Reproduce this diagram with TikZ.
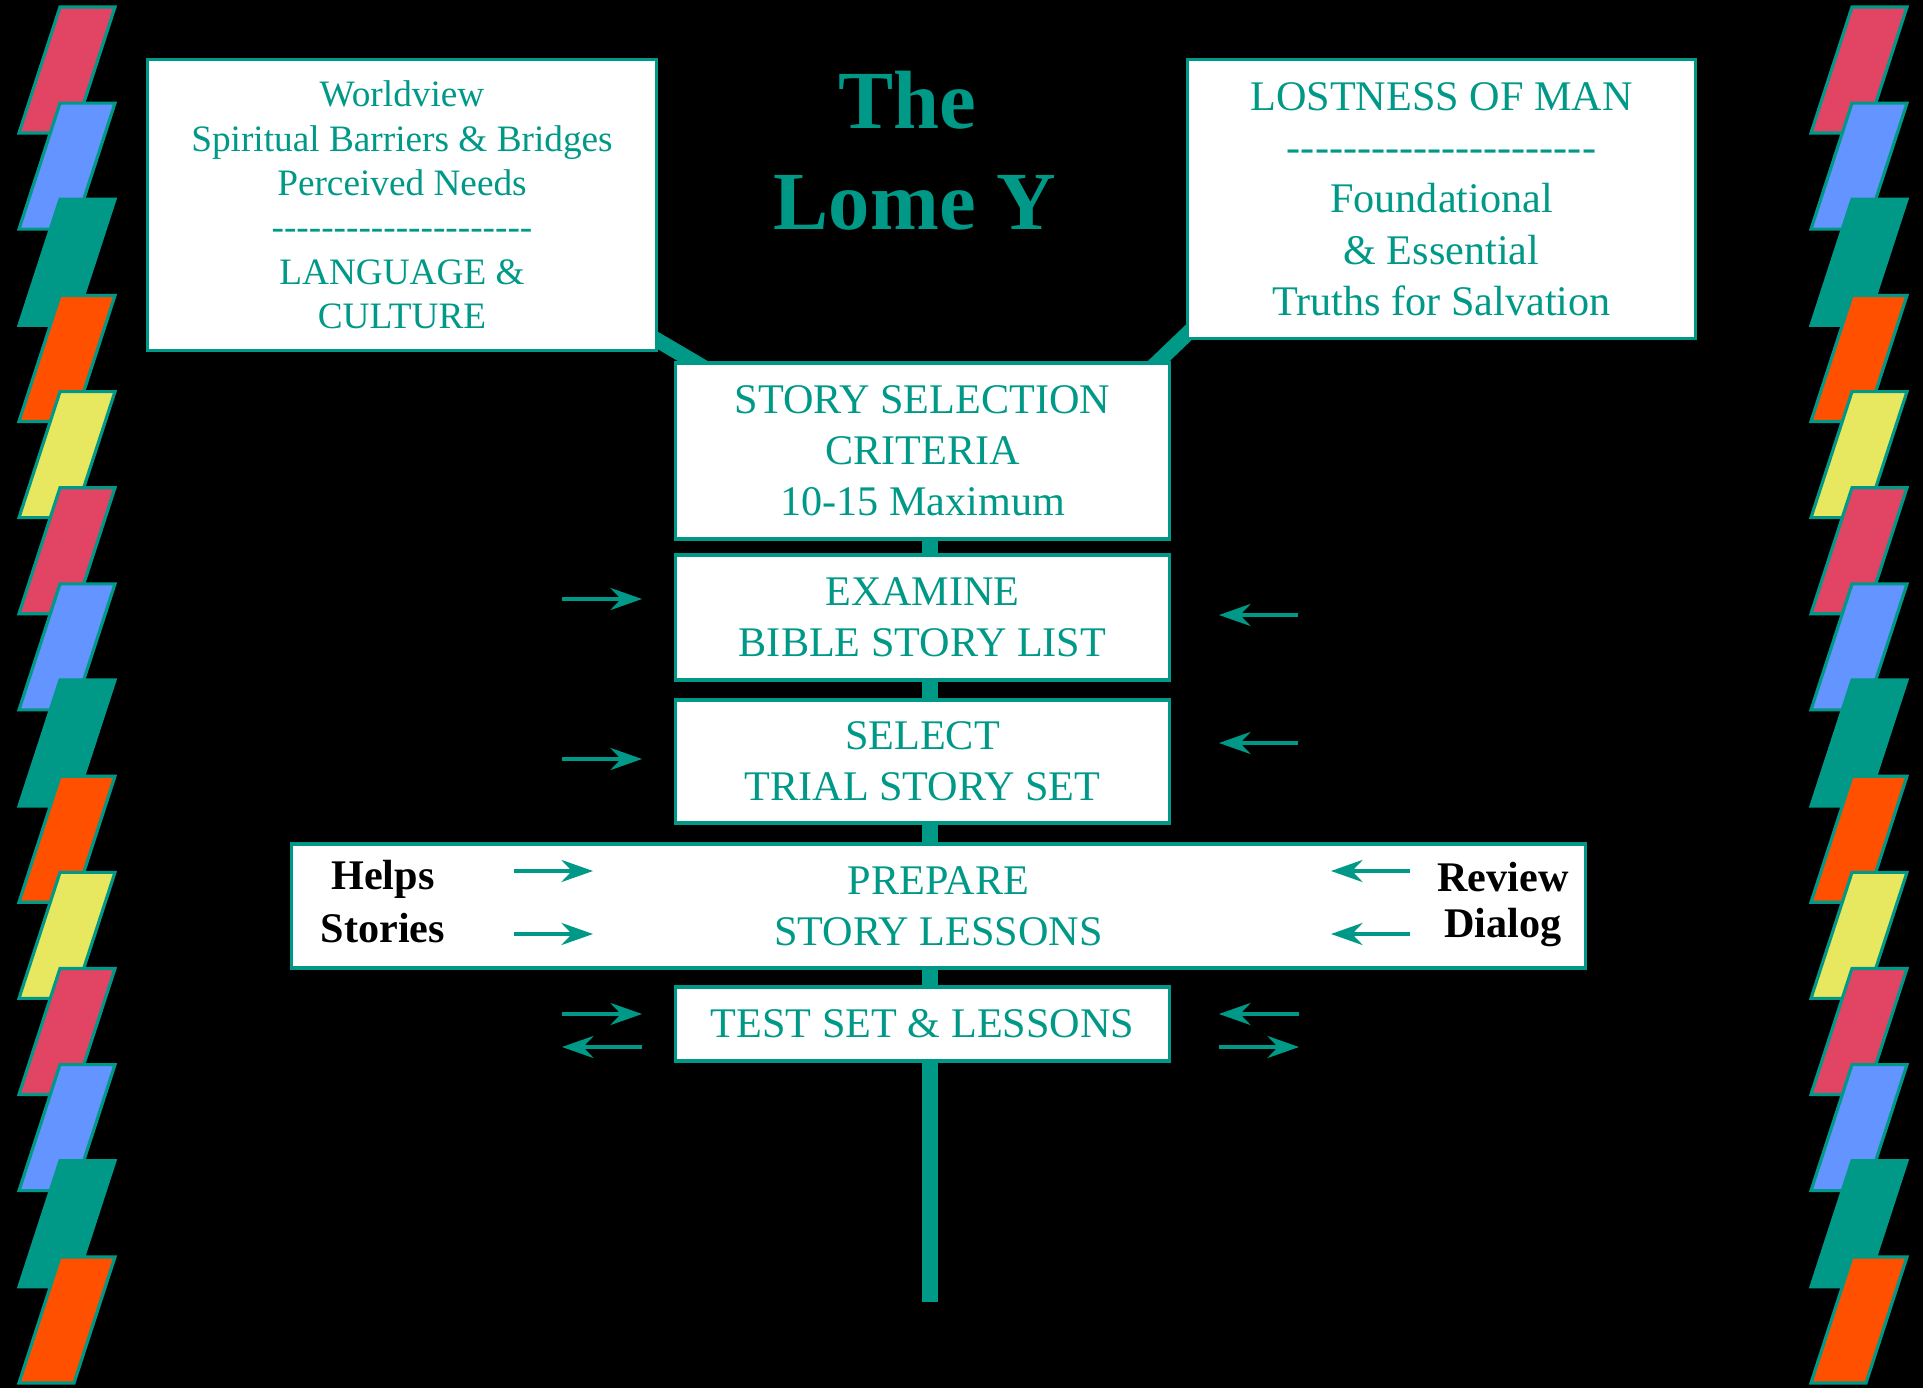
\documentclass[tikz,border=0pt]{standalone}
\usepackage{fontspec}
\setmainfont{Liberation Serif}
\usetikzlibrary{arrows.meta}

\definecolor{lometeal}{RGB}{0,153,136}
\definecolor{barred}{RGB}{226,68,100}
\definecolor{barblue}{RGB}{100,148,255}
\definecolor{barorange}{RGB}{255,80,0}
\definecolor{baryellow}{RGB}{232,232,96}

\pgfdeclarelayer{back}
\pgfsetlayers{back,main}

% a row of single hyphens (no dash ligatures)
\newcommand{\dashrow}[1]{\foreach \k in {1,...,#1}{-}}

\tikzset{
  panel/.style={draw=lometeal, fill=white, line width=0.9pt, text=lometeal,
    align=center, inner sep=0pt},
  stage/.style={panel, minimum width=4.93cm,
    font=\fontsize{12}{14.5}\selectfont},
  side/.style={text=black, font=\fontsize{12}{14.5}\selectfont\bfseries},
  flow/.style={draw=lometeal, line width=0.95pt,
    -{Stealth[length=9pt, width=6.3pt, inset=3pt]}},
  stem/.style={draw=lometeal, line width=4.8pt},
  bar/.style={draw=lometeal, line width=0.9pt},
  heading/.style={text=lometeal, font=\fontsize{23.5}{28.7}\selectfont\bfseries}
}

\begin{document}
\begin{tikzpicture}[x=0.01cm, y=-0.01cm]

    % Black page
    \useasboundingbox (0,0) rectangle (1923,1388);
    \begin{pgfonlayer}{back}
      \fill[black] (0,0) rectangle (1923,1388);
    \end{pgfonlayer}

    % Coloured bars down both sides
    \foreach \dx in {0,1792} {
      \foreach \c [count=\i from 0] in {barred,barblue,lometeal,barorange,baryellow,
          barred,barblue,lometeal,barorange,baryellow,barred,barblue,lometeal,barorange} {
        \pgfmathsetmacro{\yt}{7+96.15*\i}
        \draw[bar, fill=\c] (60+\dx,\yt) -- (115+\dx,\yt) -- (74+\dx,\yt+126)
          -- (19+\dx,\yt+126) -- cycle;
      }
    }

    % Title
    \node[heading, anchor=base] (the) at (907,129) {The};
    \node[heading, anchor=base] (lome) at (915,230) {Lome Y};

    % Two arms of the Y
    \node[panel, minimum width=5.08cm, minimum height=2.90cm,
      font=\fontsize{10.6}{12.6}\selectfont] (culture) at (402,205)
      {Worldview\\Spiritual Barriers \& Bridges\\Perceived Needs\\\dashrow{21}\\
       LANGUAGE \&\\CULTURE};
    \node[panel, minimum width=5.07cm, minimum height=2.79cm,
      font=\fontsize{12}{14.6}\selectfont] (truths) at (1441.5,199)
      {LOSTNESS OF MAN\\\dashrow{22}\\Foundational\\\& Essential\\Truths for Salvation};

    % Steps down the stem
    \node[stage, minimum height=1.76cm] (criteria) at (922.5,451)
      {STORY SELECTION\\CRITERIA\\10-15 Maximum};
    \node[stage, minimum height=1.25cm] (examine) at (922.5,617.5)
      {EXAMINE\\BIBLE STORY LIST};
    \node[stage, minimum height=1.23cm] (select) at (922.5,761.5)
      {SELECT\\TRIAL STORY SET};
    \node[panel, minimum width=12.93cm, minimum height=1.24cm,
      font=\fontsize{12}{14.5}\selectfont] (prepare) at (938.5,906)
      {PREPARE\\STORY LESSONS};
    \node[stage, minimum height=0.74cm] (test) at (922.5,1024)
      {TEST SET \& LESSONS};

    % Inputs to the lessons
    \node[side] (helps) at (383,879) {Helps};
    \node[side] (stories) at (383,928) {Stories};
    \node[side] (review) at (1503,877) {Review};
    \node[side] (dialog) at (1503,928) {Dialog};

    % Stem and arms behind the boxes
    \coordinate (stemtop) at (930,450);
    \coordinate (stembot) at (930,1302);
    \coordinate (armL) at (640,330);
    \coordinate (armLend) at (720,377);
    \coordinate (armR) at (1210,312);
    \coordinate (armRend) at (1140,379);
    \begin{pgfonlayer}{back}
      \draw[stem] (stemtop) -- (stembot);
      \draw[stem, line width=4.3pt] (armL) -- (armLend);
      \draw[stem, line width=4.3pt] (armR) -- (armRend);
    \end{pgfonlayer}

    % Arrows beside the steps
    \foreach \y in {599,759}
      \draw[flow] (562,\y) -- (642,\y);
    \foreach \y in {615,743}
      \draw[flow] (1298,\y) -- (1219,\y);
    \foreach \y in {871,934} {
      \draw[flow] (514,\y) -- (593,\y);
      \draw[flow] (1410,\y) -- (1331,\y);
    }
    \draw[flow] (562,1014) -- (642,1014);
    \draw[flow] (642,1047) -- (562,1047);
    \draw[flow] (1299,1014) -- (1219,1014);
    \draw[flow] (1219,1047) -- (1299,1047);

\end{tikzpicture}
\end{document}
